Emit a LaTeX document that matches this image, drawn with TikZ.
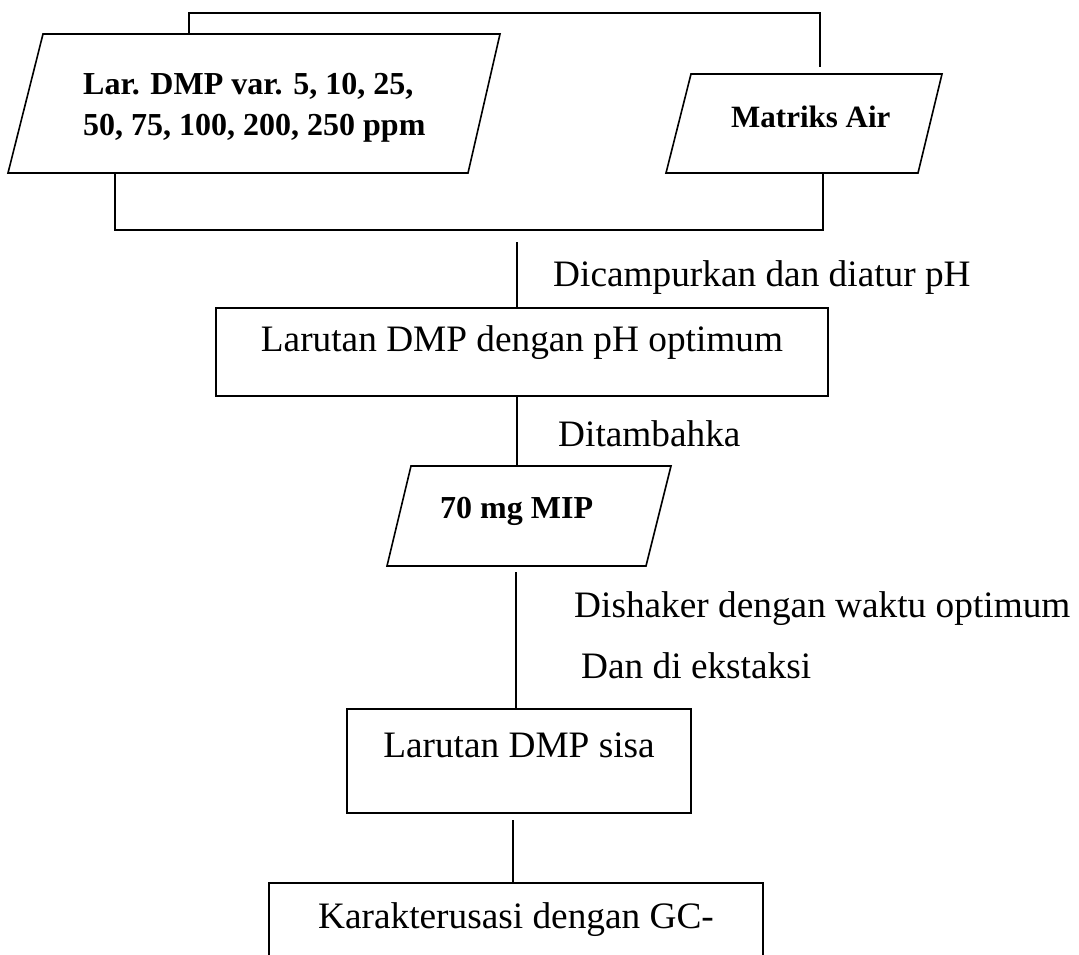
\documentclass[tikz,border=0pt]{standalone}
\usepackage{fontspec}
\setmainfont{Liberation Serif}
\newcommand\myreg{\fontsize{37.3}{43}\selectfont}
\newcommand\mybold{\fontsize{32}{41}\selectfont\bfseries}
\newcommand\mysbold{\fontsize{31}{37}\selectfont\bfseries}
\tikzset{
  ln/.style={line width=1.6pt},
  box/.style={draw, line width=1.6pt, inner xsep=0pt, inner ysep=0pt, anchor=north, font=\myreg},
  para/.style={draw, line width=1.6pt},
  lbl/.style={anchor=base west, inner sep=0pt, font=\myreg},
  blbl/.style={anchor=base west, inner sep=0pt, font=\mybold},
}
\begin{document}
\begin{tikzpicture}[x=1pt, y=-1pt]
\useasboundingbox (0,0) rectangle (1079,954);
% input parallelograms
\coordinate (p1tl) at (43,34);  \coordinate (p1tr) at (500,34);
\coordinate (p1br) at (468,173); \coordinate (p1bl) at (8,173);
\coordinate (p2tl) at (691,74); \coordinate (p2tr) at (942,74);
\coordinate (p2br) at (918,173); \coordinate (p2bl) at (666,173);
\coordinate (p3tl) at (411,466); \coordinate (p3tr) at (671,466);
\coordinate (p3br) at (646,566); \coordinate (p3bl) at (387,566);
\draw[para] (p1tl) -- (p1tr) -- (p1br) -- (p1bl) -- cycle;
\draw[para] (p2tl) -- (p2tr) -- (p2br) -- (p2bl) -- cycle;
\draw[para] (p3tl) -- (p3tr) -- (p3br) -- (p3bl) -- cycle;
\node[blbl] (lar) at (83,94) {\begin{tabular}[t]{@{}l@{}}Lar. DMP var. 5, 10, 25,\\50, 75, 100, 200, 250 ppm\end{tabular}};
\node[blbl, font=\mysbold] (air) at (731,127) {Matriks Air};
\node[blbl] (mip) at (440,518) {70 mg MIP};
% brackets
\coordinate (tl) at (189,34);
\coordinate (tr) at (820,67);
\draw[ln] (tl) -- (189,13) -- (820,13) -- (tr);
\coordinate (bl) at (115,173);
\coordinate (br) at (823,173);
\draw[ln] (bl) -- (115,230) -- (823,230) -- (br);
% boxes
\node[box, minimum width=612pt, text height=44pt, text depth=44pt] (b1) at (522,307) {Larutan DMP dengan pH optimum};
\node[box, minimum width=344pt, text height=49pt, text depth=55pt] (b2) at (519,708) {Larutan DMP sisa};
\node[box, minimum width=494pt, text height=46pt, text depth=60pt] (b3) at (516,882) {Karakterusasi dengan GC-};
% connectors
\coordinate (c1) at (517,242);
\draw[ln] (c1) -- (c1 |- b1.north);
\coordinate (c2) at (517,395);
\draw[ln] (c2) -- (c2 |- p3tl);
\coordinate (c3) at (516,572);
\draw[ln] (c3) -- (c3 |- b2.north);
\coordinate (c4) at (513,820);
\draw[ln] (c4) -- (c4 |- b3.north);
% step labels
\node[lbl] (s1) at (553,286) {Dicampurkan dan diatur pH};
\node[lbl] (s2) at (558,446) {Ditambahka};
\node[lbl] (s3) at (574,617) {Dishaker dengan waktu optimum};
\node[lbl] (s4) at (581,678) {Dan di ekstaksi};
\end{tikzpicture}
\end{document}
